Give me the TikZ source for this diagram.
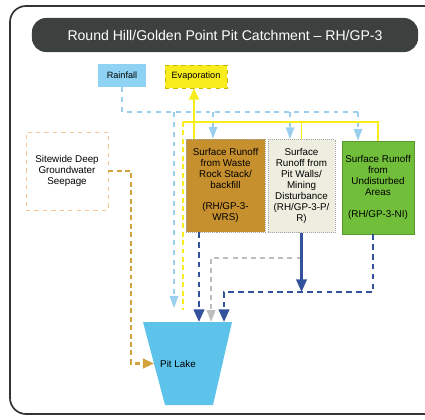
\documentclass[tikz,border=0pt]{standalone}
\usepackage{fontspec}
\setmainfont{Liberation Sans}
\usetikzlibrary{arrows.meta,calc}
\definecolor{titlebg}{HTML}{3C413F}
\definecolor{rainbl}{HTML}{8FD3F4}
\definecolor{rainln}{HTML}{9ACFEF}
\definecolor{evapyl}{HTML}{F7EC1C}
\definecolor{evapdk}{HTML}{C8B400}
\definecolor{wrsbr}{HTML}{C6902F}
\definecolor{prwh}{HTML}{EDEDE0}
\definecolor{nigr}{HTML}{71BE3A}
\definecolor{dkblue}{HTML}{34529C}
\definecolor{grayln}{HTML}{BDBDBD}
\definecolor{seepor}{HTML}{D4A23C}
\definecolor{seepbd}{HTML}{F3C58F}
\definecolor{lakebl}{HTML}{5EC3EA}
\tikzset{srcbox/.style={minimum height=5.75mm, inner sep=1pt, font=\fontsize{6.5}{7}\selectfont},
  runoff/.style={draw=gray!70, densely dotted, minimum height=23.25mm, inner sep=1pt, align=center},
  rainflow/.style={rainln, line width=1.1pt, dash pattern=on 3.5pt off 3.5pt},
  evflow/.style={evapyl, line width=1.4pt},
  flow/.style={dkblue, line width=1.8pt, dash pattern=on 4pt off 3pt},
  smalltip/.style={-{Triangle[width=6pt,length=8.5pt]}},
  bigtip/.style={-{Triangle[width=7.5pt,length=9pt]}}}

\begin{document}
\begin{tikzpicture}[x=0.025cm, y=-0.025cm, font=\fontsize{7}{7.8}\selectfont]
  \useasboundingbox (0,0) rectangle (425,419);
  \draw[line width=1.2pt, black!80, rounded corners=4mm] (10,6) rectangle (460,414);
  \node[fill=titlebg, text=white, rounded corners=3.5mm, minimum width=96.5mm, minimum height=8.5mm,
    font=\fontsize{10}{12}\selectfont] (title) at (225,35) {Round Hill/Golden Point Pit Catchment – RH/GP-3};
  \node[srcbox, fill=rainbl, minimum width=12mm] (rain) at (122,75.5) {Rainfall};
  \node[srcbox, fill=evapyl, draw=evapdk, dashed, minimum width=15.5mm] (evap) at (196,76.5) {Evaporation};
  \node[draw=seepbd, dashed, thin, minimum width=20.5mm, minimum height=19.5mm, align=center] (seep) at (67,171)
    {Sitewide Deep\\Groundwater\\Seepage};
  % runoff boxes
  \node[runoff, fill=wrsbr, minimum width=19.75mm] (wrs) at (225.5,185.5)
    {Surface Runoff\\from Waste\\Rock Stack/\\backfill\\[7.8pt](RH/GP-3-\\WRS)};
  \node[runoff, fill=prwh, minimum width=16.75mm] (pr) at (301.5,186)
    {Surface\\Runoff from\\Pit Walls/\\Mining\\Disturbance\\(RH/GP-3-P/\\R)};
  \node[runoff, fill=nigr, draw=nigr!80!black, solid, minimum width=18mm] (ni) at (378,187.5)
    {Surface Runoff\\from\\Undisturbed\\Areas\\[7.8pt](RH/GP-3-NI)};
  % pit lake
  \coordinate (ltl) at (143,322);
  \coordinate (ltr) at (232,322);
  \coordinate (lbl) at (165,405);
  \fill[lakebl] (ltl) -- (ltr) -- (213,405) -- (lbl) -- cycle;
  \node (lake) at (178,364) {Pit Lake};
  \coordinate (lw) at ($(ltl)!0.5!(lbl)$);
  % rainfall
  \coordinate (rr) at (362,112);
  \draw[rainflow] (rain.south) |- (rr);
  \foreach \n/\dx in {wrs/-12.5, pr/-11.5, ni/-20} {
    \coordinate (t) at ($(\n.north)+(\dx,0)$);
    \draw[rainflow, smalltip] (t |- rr) -- (t);
  }
  \coordinate (rd) at (174,308);
  \draw[rainflow, smalltip] (rd |- rr) -- (rd);
  % evaporation
  \coordinate (yl) at (183,122);
  \draw[evflow] (ni.north) |- (yl);
  \draw[evflow] (pr.north) -- (pr.north |- yl);
  \coordinate (ey) at ($(wrs.north)+(-31.5,0)$);
  \draw[evflow, -{Triangle[width=7pt,length=8pt]}] (ey) -- (ey |- evap.south);
  \draw[evflow, dash pattern=on 3.5pt off 2.5pt] (yl) -- ++(0,188);
  % runoff to pit lake
  \coordinate (e2) at ($(ltl)!0.765!(ltr)$);
  \coordinate (e3) at ($(ltl)!0.91!(ltr)$);
  \coordinate (nj) at ($(e3)+(0,-30)$);
  \draw[grayln, line width=1.4pt, dash pattern=on 3.5pt off 3pt, -{Triangle[width=6pt,length=8.5pt]}]
    ($(pr.south)+(0,25)$) -| (e2);
  \coordinate (w1) at ($(wrs.south)+(-26.5,0)$);
  \draw[flow, bigtip] (w1) -- (w1 |- ltl);
  \draw[flow, bigtip] ($(ni.south)+(-5,0)$) |- (nj) -- (e3);
  \draw[dkblue, line width=1.6pt, bigtip] (pr.south) -- (pr.south |- nj);
  % seepage
  \draw[seepor, line width=1.5pt, dash pattern=on 3.5pt off 2.5pt, -{Triangle[width=7pt,length=8pt]}]
    (seep.east) -- ++(23,0) |- (lw);
\end{tikzpicture}
\end{document}
